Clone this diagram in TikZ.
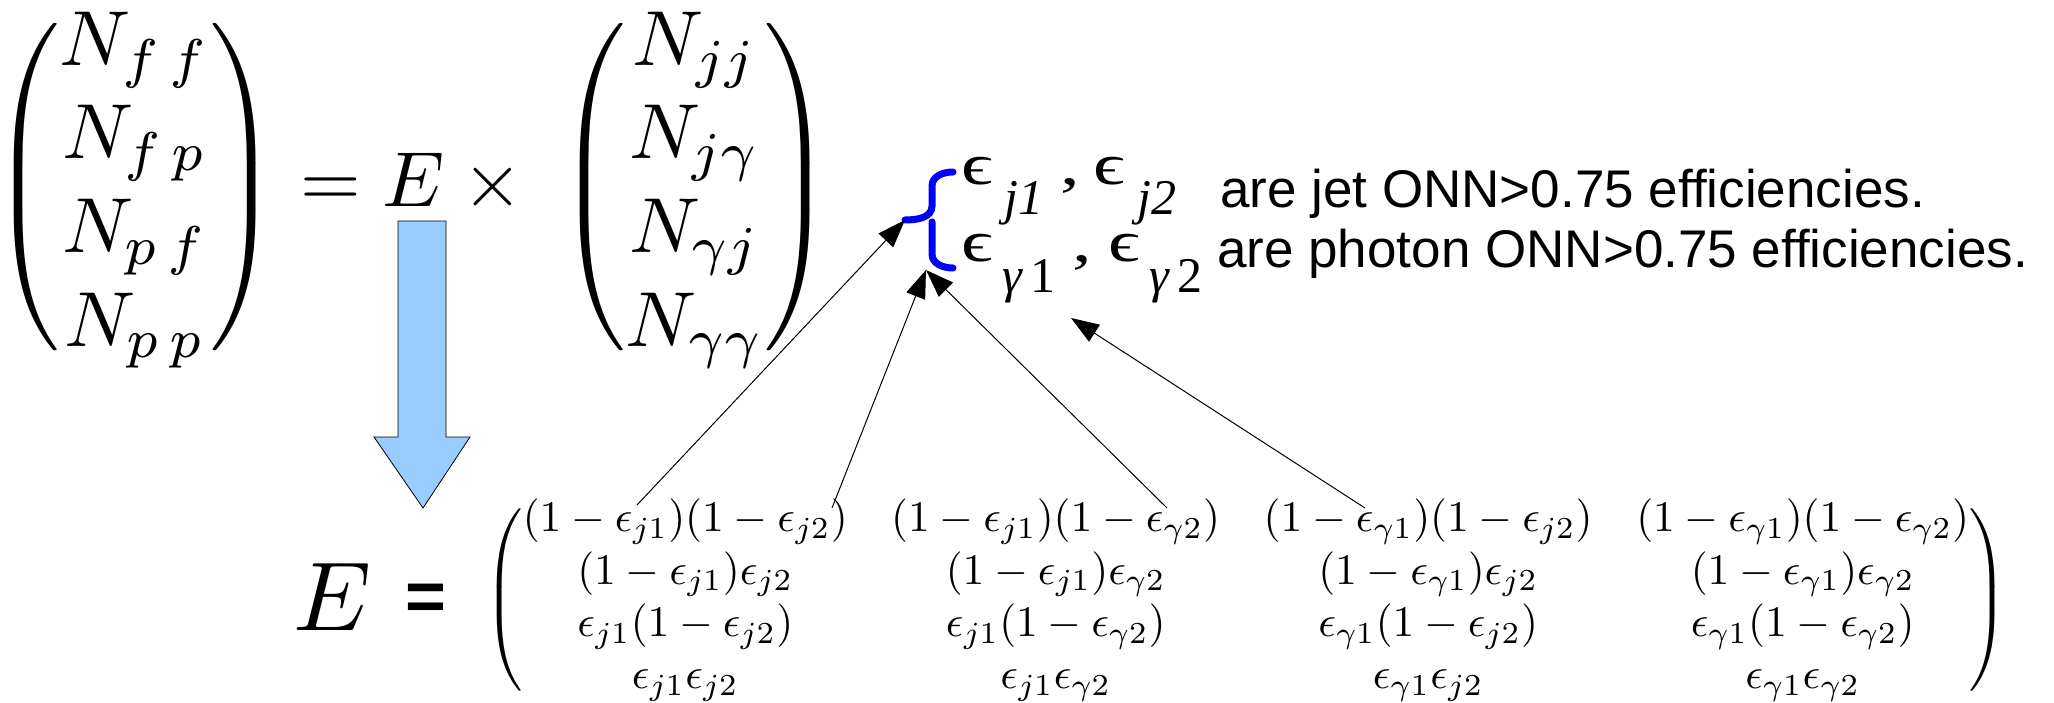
\documentclass[tikz,border=0pt]{standalone}
\usepackage{amsmath,amssymb}
\usepackage{fontspec}
\usepackage{tikz}
\usetikzlibrary{arrows.meta}

\newfontfamily\labelfont{Liberation Sans}
\newfontfamily\epsfont{Liberation Serif}
\definecolor{arrowblue}{HTML}{99CCFF}
% parentheses of a fixed height round a column or matrix
\newcommand{\fixparen}[2]{\left(\smash{#2}\vcenter{\hbox{\rule{0pt}{#1}}}\right)}

\begin{document}
\begin{tikzpicture}[x=1pt,y=-1pt,
    eqn/.style={inner sep=0pt},
    note/.style={inner sep=0pt,anchor=base west,font=\labelfont\fontsize{53}{60}\selectfont},
    effsym/.style={inner sep=0pt,anchor=base west,xscale=1.35,font=\epsfont\fontsize{58}{60}\selectfont},
    effsub/.style={inner sep=0pt,anchor=base west,font=\epsfont\fontsize{50}{52}\selectfont},
    pointer/.style={line width=1pt,-{Triangle[length=28pt,width=20pt]}}]
\useasboundingbox (0,0) rectangle (2054,703);

% counts = E x true counts
\node[eqn,scale=7.8] (countsObs) at (135,187)
  {$\fixparen{46pt}{\begin{matrix}N_{f\,f}\\N_{f\,p}\\N_{p\,f}\\N_{p\,p}\end{matrix}}$};
\node[eqn,scale=7.8,anchor=base west] (timesE) at (299,207) {$=E\times\mathord{}$};
\node[eqn,scale=7.8] (countsTrue) at (695,187)
  {$\fixparen{46pt}{\begin{matrix}N_{jj}\\N_{j\gamma}\\N_{\gamma j}\\N_{\gamma\gamma}\end{matrix}}$};

% big block arrow
\draw[fill=arrowblue,line width=0.8pt] (398,221) -- (446,221) -- (446,437) -- (470,437)
  -- (423,508) -- (374,437) -- (398,437) -- cycle;

\node[eqn,scale=9.8,anchor=base west] (bigE) at (292,630) {$E$};
\node[eqn,anchor=center,font=\labelfont\bfseries\fontsize{70}{70}\selectfont] (eq) at (426,602) {=};

% the efficiency matrix
\node[eqn,scale=4.36] (Emat) at (1246,600)
  {$\fixparen{46pt}{\begin{matrix}
  (1-\epsilon_{j1})(1-\epsilon_{j2}) & (1-\epsilon_{j1})(1-\epsilon_{\gamma2}) & (1-\epsilon_{\gamma1})(1-\epsilon_{j2}) & (1-\epsilon_{\gamma1})(1-\epsilon_{\gamma2})\\
  (1-\epsilon_{j1})\epsilon_{j2} & (1-\epsilon_{j1})\epsilon_{\gamma2} & (1-\epsilon_{\gamma1})\epsilon_{j2} & (1-\epsilon_{\gamma1})\epsilon_{\gamma2}\\
  \epsilon_{j1}(1-\epsilon_{j2}) & \epsilon_{j1}(1-\epsilon_{\gamma2}) & \epsilon_{\gamma1}(1-\epsilon_{j2}) & \epsilon_{\gamma1}(1-\epsilon_{\gamma2})\\
  \epsilon_{j1}\epsilon_{j2} & \epsilon_{j1}\epsilon_{\gamma2} & \epsilon_{\gamma1}\epsilon_{j2} & \epsilon_{\gamma1}\epsilon_{\gamma2}
  \end{matrix}}$};

% jet efficiencies
\node[effsym] (epsJa) at (961,185) {ϵ};
\node[effsub] (subJa) at (1004,215) {\itshape j1};
\node[effsym] (commaJ) at (1060,185) {,};
\node[effsym] (epsJb) at (1093,185) {ϵ};
\node[effsub] (subJb) at (1137,215) {\itshape j2};
% photon efficiencies
\node[effsym] (epsGa) at (961,262) {ϵ};
\node[effsub] (subGa) at (1002,293) {\itshape γ\,\upshape 1};
\node[effsym] (commaG) at (1072,262) {,};
\node[effsym] (epsGb) at (1108,262) {ϵ};
\node[effsub] (subGb) at (1149,293) {\itshape γ\,\upshape 2};

\node[note] (jetTxt) at (1220,208) {are jet ONN>0.75 efficiencies.};
\node[note] (phoTxt) at (1217,268) {are photon ONN>0.75 efficiencies.};

% brace
\coordinate (braceTip) at (905,220);
\coordinate (braceLow) at (926,270);
\draw[blue,line width=7pt,line cap=round] (953,172) to[out=180,in=90] (932,186) -- (932,206)
  to[out=-90,in=0] (905,220);
\draw[blue,line width=7pt,line cap=round] (932,222) -- (932,254) to[out=-90,in=180] (953,268);

% where the terms come from
\coordinate (fromA) at (637,505);
\coordinate (fromB) at (832,508);
\coordinate (fromC) at (1167,508);
\coordinate (fromD) at (1365,508);
\coordinate (phoBelow) at (1071,318);
\draw[pointer] (fromA) -- (braceTip);
\draw[pointer] (fromB) -- (braceLow);
\draw[pointer] (fromC) -- (braceLow);
\draw[pointer] (fromD) -- (phoBelow);
\end{tikzpicture}
\end{document}
